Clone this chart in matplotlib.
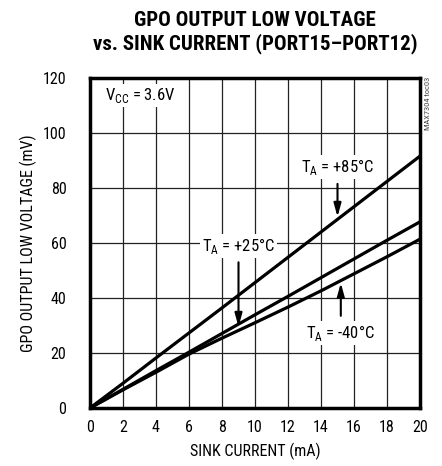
import matplotlib
matplotlib.use("Agg")
import matplotlib.pyplot as plt

# sink current (mA) and output low voltage (mV) per temperature
current = [0, 2, 4, 6, 8, 10, 12, 14, 16, 18, 20]
v_85 = [0, 9.0, 18.2, 27.3, 36.4, 45.6, 54.8, 64.0, 73.2, 82.4, 91.6]
v_25 = [0, 6.8, 13.6, 20.3, 27.1, 33.9, 40.6, 47.4, 54.2, 61.0, 67.7]
v_m40 = [0, 6.6, 13.0, 19.6, 25.4, 31.0, 36.7, 42.6, 48.8, 55.0, 61.4]

x_ticks = list(range(0, 21, 2))
y_ticks = list(range(0, 121, 20))

FONT = "Roboto Condensed"
plt.rcParams["font.family"] = [FONT, "DejaVu Sans"]
plt.rcParams["mathtext.fontset"] = "custom"
plt.rcParams["mathtext.rm"] = FONT

fig = plt.figure(figsize=(4.42, 4.66), dpi=100)
ax = fig.add_axes([90 / 442, 1 - 408 / 466, 330 / 442, 330 / 466])

for y in (v_85, v_25, v_m40):
    ax.plot(current, y, color="black", lw=2.3, solid_capstyle="butt")

ax.set_xlim(0, 20)
ax.set_ylim(0, 120)
ax.set_xticks(x_ticks)
ax.set_yticks(y_ticks)
ax.grid(True, color="#222222", lw=0.9)
ax.tick_params(length=0, labelsize=11.5)
ax.tick_params(axis="x", pad=9)
ax.tick_params(axis="y", pad=17)
for s in ax.spines.values():
    s.set_linewidth(2.5)

ax.set_xlabel("SINK CURRENT (mA)", fontsize=11.5, labelpad=5)
ax.set_ylabel("GPO OUTPUT LOW VOLTAGE (mV)", fontsize=11.5, labelpad=4)

tx = 255 / 442
fig.text(tx, 1 - 21 / 466, "GPO OUTPUT LOW VOLTAGE", ha="center", va="center",
         fontsize=15, fontweight="heavy")
fig.text(tx, 1 - 44 / 466, "vs. SINK CURRENT (PORT15\u2013PORT12)", ha="center",
         va="center", fontsize=15, fontweight="heavy")

box = dict(facecolor="white", edgecolor="none", pad=1.5)
arrow = dict(arrowstyle="-|>,head_width=0.22,head_length=0.8", color="black", lw=1.5)

ax.text(0.9, 113.5, r"V$_{\mathregular{CC}}$ = 3.6V", fontsize=12, va="center", bbox=box)

ax.text(15.0, 87.5, r"T$_{\mathregular{A}}$ = +85°C", fontsize=12, ha="center", va="center", bbox=box)
ax.annotate("", xy=(15.0, 68.5), xytext=(15.0, 82.5), arrowprops=arrow)

ax.text(9.0, 59, r"T$_{\mathregular{A}}$ = +25°C", fontsize=12, ha="center", va="center", bbox=box)
ax.annotate("", xy=(9.0, 28.5), xytext=(9.0, 54), arrowprops=arrow)

ax.text(15.2, 27.3, r"T$_{\mathregular{A}}$ = -40°C", fontsize=12, ha="center", va="center", bbox=box)
ax.annotate("", xy=(15.2, 46.5), xytext=(15.2, 32.5), arrowprops=arrow)

fig.text(428 / 442, 1 - 77 / 466, "MAX7304 toc03", rotation=90, ha="center", va="top",
         fontsize=6, color="#444444")

fig.savefig("out.png", dpi=100)
